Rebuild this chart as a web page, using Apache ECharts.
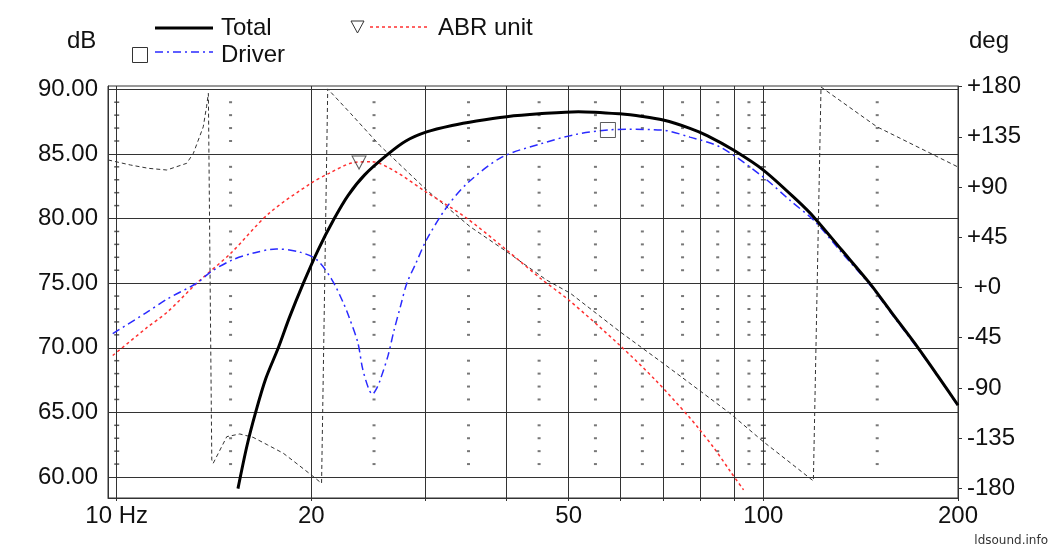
<!DOCTYPE html>
<html><head><meta charset="utf-8">
<script src="https://cdn.jsdelivr.net/npm/echarts@6/dist/echarts.min.js"></script>
<style>html,body{margin:0;padding:0;background:#fff}#c{width:1054px;height:551px}</style>
</head><body><div id="c"></div>
<script>
// ---- data (frequency in Hz) ----
const xLabelValues = [10, 20, 50, 100, 200];
const xGridValues = [10, 20, 30, 40, 50, 60, 70, 80, 90, 100, 200];
const xMinorValues = [15, 25, 35, 45, 55, 65, 75, 85, 95, 150];
const dbTickLabels = [60, 65, 70, 75, 80, 85, 90];
const degTickLabels = [-180, -135, -90, -45, 0, 45, 90, 135, 180];

const totalFreq = [15.4, 15.9, 16.4, 17.0, 17.78, 18.5, 19.44, 20.5, 21.7, 22.8, 24.2, 26.3, 28.0, 30.15, 33, 36, 40.1, 45, 51.75, 60, 65, 70, 77, 82, 89.9, 100, 112.8, 120, 132, 146, 158, 173.5, 186, 200];
const totalDb   = [59.1, 62.4, 65.0, 67.6, 70.0, 72.35, 75.0, 77.6, 80.0, 81.8, 83.4, 85.0, 86.0, 86.7, 87.2, 87.55, 87.88, 88.1, 88.27, 88.1, 87.9, 87.62, 86.98, 86.4, 85.3, 83.75, 81.4, 80.05, 77.6, 75.0, 72.7, 70.0, 67.85, 65.55];

const driverFreq = [9.86, 11.1, 12, 13.3, 14.0, 15.1, 16.2, 17.65, 19.2, 20.4, 21.5, 22.4, 22.9, 23.6, 24.0, 24.5, 24.85, 25.2, 25.55, 26.3, 26.8, 27.5, 28.1, 29, 30.1, 32.3, 34.8, 39.4, 45.4, 51.2, 57.5, 62, 69.6, 77, 86, 100, 110, 120, 132, 146, 158, 173.5, 186, 200];
const driverDb   = [71.1, 72.7, 73.8, 75.0, 75.9, 76.8, 77.3, 77.65, 77.4, 76.8, 75.3, 73.5, 72.3, 70.4, 68.4, 66.9, 66.4, 66.8, 67.5, 69.45, 71.2, 73.3, 75.0, 76.5, 78.3, 80.8, 82.7, 84.75, 85.8, 86.5, 86.85, 86.9, 86.85, 86.3, 85.5, 83.2, 81.4, 79.8, 77.4, 74.9, 72.6, 69.9, 67.8, 65.5];

const abrFreq = [9.86, 11.1, 12, 13.3, 15, 17.2, 20, 21.3, 23.1, 24.8, 27.05, 30.1, 34.6, 40, 45.4, 50, 59.8, 68.1, 76.6, 79.3, 84, 89, 93.2];
const abrDb   = [69.4, 71.5, 72.8, 75.0, 77.3, 80.4, 82.75, 83.5, 84.3, 84.4, 83.6, 82.05, 80.1, 77.6, 75.3, 73.7, 70.25, 67.5, 64.7, 63.8, 62.2, 60.4, 59.0];

const phaseFreq = [9.7, 10.5, 11.2, 11.95, 12.83, 13.14, 13.61, 13.77, 13.86, 14.03, 14.1, 14.8, 15.5, 16.25, 17.1, 18.1, 19.0, 20.0, 20.74, 21.2, 23, 25.5, 30.15, 35.2, 40.1, 46.2, 50.3, 60, 70, 77, 88.8, 100, 110, 119.5, 122.8, 149.8, 175, 200];
const phaseDeg  = [114.3, 109.8, 106.8, 105.3, 111.3, 120.3, 144, 162, 174, -154.6, -157.6, -133.7, -131.3, -134.3, -141, -148.6, -158, -168.1, -175.5, 178, 156, 127.5, 87.4, 54.5, 32.1, 6.7, -5.2, -39.6, -68, -85.9, -112.8, -138.2, -157, -173.4, 179.7, 144.1, 124.7, 108];

const driverMarker = [57.5, 86.85];
const abrMarker = [23.7, 84.33];

// ---- build ----
const L = Math.log10;
const pairs = (fs, vs) => fs.map((f, i) => [L(f), vs[i]]);
const minorDots = [];
const lineDots = [];
for (let d = 61; d <= 89; d++) {
  if (d % 5 === 0) continue;
  xMinorValues.forEach(f => minorDots.push([L(f), d]));
  lineDots.push([L(10), d]);
  lineDots.push([L(100), d]);
}
const FONT = 'Liberation Sans';
const GRID = '#333';

const chart = echarts.init(document.getElementById('c'), null, {renderer: 'canvas'});
chart.setOption({
  animation: false,
  backgroundColor: '#fff',
  grid: {left: 108, right: 96, top: 86, bottom: 53, show: true, borderColor: GRID, borderWidth: 1},
  xAxis: {
    type: 'value', min: 0.98655, max: L(200),
    axisLine: {show: true, onZero: false, lineStyle: {color: GRID}},
    axisTick: {show: true, length: 3, customValues: xGridValues.map(L), lineStyle: {color: GRID}},
    splitLine: {show: true, lineStyle: {color: GRID, width: 1}},
    axisLabel: {
      customValues: xLabelValues.map(L), margin: 6,
      fontFamily: FONT, fontSize: 24, color: '#111',
      formatter: v => { const f = Math.round(Math.pow(10, v)); return f === 10 ? '10 Hz' : String(f); }
    }
  },
  yAxis: [{
    type: 'value', min: 58.375, max: 90.255, position: 'left',
    axisLine: {show: true, onZero: false, lineStyle: {color: GRID}},
    axisTick: {show: false, customValues: dbTickLabels},
    splitLine: {show: true, lineStyle: {color: GRID, width: 1}},
    axisLabel: {customValues: dbTickLabels, margin: 10, fontFamily: FONT, fontSize: 24, color: '#111',
      formatter: v => v.toFixed(2)}
  }, {
    type: 'value', min: -188.7, max: 180.6, position: 'right',
    axisLine: {show: true, onZero: false, lineStyle: {color: GRID}},
    axisTick: {show: true, length: 4, customValues: degTickLabels, lineStyle: {color: GRID}},
    splitLine: {show: false},
    axisLabel: {customValues: degTickLabels, margin: 9, fontFamily: FONT, fontSize: 24, color: '#111',
      formatter: v => v > 0 ? '+' + v : (v === 0 ? ' +0' : String(v))}
  }],
  series: [
    {type: 'scatter', data: minorDots, symbol: 'rect', symbolSize: [3, 2], itemStyle: {color: '#555'}, silent: true, z: 1},
    {type: 'scatter', data: lineDots, symbol: 'rect', symbolSize: [5, 1.5], itemStyle: {color: '#333'}, silent: true, z: 1},
    {name: 'Phase', type: 'line', yAxisIndex: 1, data: pairs(phaseFreq, phaseDeg), showSymbol: false, symbol: 'none',
      lineStyle: {color: '#333', width: 1, type: [4, 3]}, z: 2},
    {name: 'ABR unit', type: 'line', data: pairs(abrFreq, abrDb), showSymbol: false, symbol: 'none', smooth: 0.3,
      lineStyle: {color: '#ff3030', width: 1.5, type: [3, 3]}, z: 3},
    {name: 'Driver', type: 'line', data: pairs(driverFreq, driverDb), showSymbol: false, symbol: 'none', smooth: 0.3,
      lineStyle: {color: '#2a2aff', width: 1.5, type: [8, 4, 2, 4]}, z: 4},
    {name: 'Total', type: 'line', data: pairs(totalFreq, totalDb), showSymbol: false, symbol: 'none', smooth: 0.3,
      lineStyle: {color: '#000', width: 3}, z: 5},
    {type: 'scatter', data: [[L(driverMarker[0]), driverMarker[1]]], symbol: 'rect', symbolSize: 15,
      itemStyle: {color: 'rgba(0,0,0,0)', borderColor: '#333', borderWidth: 1}, z: 6},
    {type: 'scatter', data: [[L(abrMarker[0]), abrMarker[1]]], symbol: 'triangle', symbolRotate: 180, symbolSize: [14, 13],
      itemStyle: {color: 'rgba(0,0,0,0)', borderColor: '#333', borderWidth: 1}, z: 6}
  ],
  graphic: [
    {type: 'line', shape: {x1: 155, y1: 28, x2: 213, y2: 28}, style: {stroke: '#000', lineWidth: 3}},
    {type: 'text', x: 221, y: 28, style: {text: 'Total', font: '24px "Liberation Sans"', fill: '#111', verticalAlign: 'middle'}},
    {type: 'rect', shape: {x: 132.5, y: 47.5, width: 15, height: 15}, style: {stroke: '#333', fill: 'none', lineWidth: 1}},
    {type: 'line', shape: {x1: 155, y1: 52, x2: 213, y2: 52}, style: {stroke: '#2a2aff', lineWidth: 1.5, lineDash: [8, 4, 2, 4]}},
    {type: 'text', x: 221, y: 55, style: {text: 'Driver', font: '24px "Liberation Sans"', fill: '#111', verticalAlign: 'middle'}},
    {type: 'polygon', shape: {points: [[351, 21], [364, 21], [357.5, 33]]}, style: {stroke: '#333', fill: 'none', lineWidth: 1}},
    {type: 'line', shape: {x1: 370, y1: 27, x2: 428, y2: 27}, style: {stroke: '#ff3030', lineWidth: 1.5, lineDash: [3, 3]}},
    {type: 'text', x: 438, y: 28, style: {text: 'ABR unit', font: '24px "Liberation Sans"', fill: '#111', verticalAlign: 'middle'}},
    {type: 'text', x: 67, y: 41.5, style: {text: 'dB', font: '24px "Liberation Sans"', fill: '#111', verticalAlign: 'middle'}},
    {type: 'text', x: 969, y: 41.5, style: {text: 'deg', font: '24px "Liberation Sans"', fill: '#111', verticalAlign: 'middle'}},
    {type: 'text', x: 1048, y: 541, style: {text: 'ldsound.info', font: '12px "DejaVu Sans"', fill: '#333', align: 'right', verticalAlign: 'middle'}}
  ]
});
</script></body></html>
